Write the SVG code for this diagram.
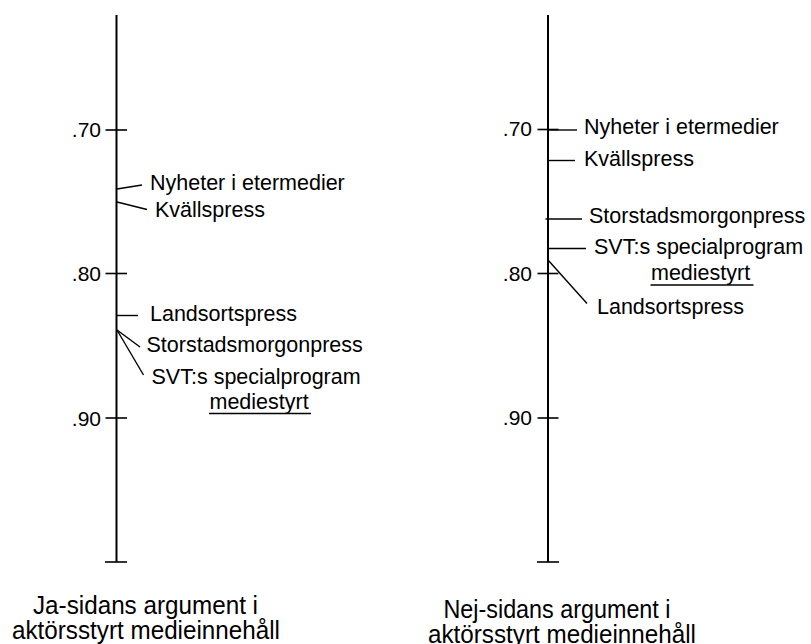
<svg xmlns="http://www.w3.org/2000/svg" width="811" height="644" viewBox="0 0 811 644">
<style>
  text { font-family: "Liberation Sans", Arial, sans-serif; fill: #000; }
  .lbl { font-size: 21.5px; }
  .tick { font-size: 21px; text-anchor: end; }
  .title { font-size: 25px; text-anchor: middle; }
  .axis { stroke: #000; stroke-width: 2; fill: none; }
  .tk { stroke: #000; stroke-width: 1.6; fill: none; }
  .lead { stroke: #000; stroke-width: 1.4; fill: none; }
  .ul { stroke: #000; stroke-width: 1.6; }
</style>
<rect width="811" height="644" fill="#fff"/>

<g id="axis-ja">
  <line class="axis" x1="116.5" y1="15" x2="116.5" y2="562"/>
  <line class="tk" x1="105.5" y1="130" x2="127" y2="130"/>
  <line class="tk" x1="105.5" y1="273.5" x2="127" y2="273.5"/>
  <line class="tk" x1="105.5" y1="418" x2="127" y2="418"/>
  <line class="tk" x1="105" y1="562" x2="127" y2="562"/>
  <text class="tick" x="101" y="136.5">.70</text>
  <text class="tick" x="101" y="281">.80</text>
  <text class="tick" x="101" y="425.5">.90</text>
</g>

<g id="axis-nej">
  <line class="axis" x1="548" y1="15" x2="548" y2="562"/>
  <line class="tk" x1="537.5" y1="129.5" x2="558.5" y2="129.5"/>
  <line class="tk" x1="537.5" y1="273.5" x2="558.5" y2="273.5"/>
  <line class="tk" x1="537.5" y1="418" x2="558.5" y2="418"/>
  <line class="tk" x1="537" y1="562" x2="559" y2="562"/>
  <text class="tick" x="532" y="136">.70</text>
  <text class="tick" x="532" y="280.5">.80</text>
  <text class="tick" x="532" y="425">.90</text>
</g>

<g id="connectors">
  <line class="lead" x1="117" y1="189" x2="142" y2="185"/>
  <line class="lead" x1="117" y1="202" x2="147" y2="209.5"/>
  <line class="lead" x1="117" y1="315.5" x2="138" y2="315.5"/>
  <line class="lead" x1="117" y1="330" x2="140" y2="347"/>
  <line class="lead" x1="117" y1="330" x2="143.5" y2="375"/>
  <line class="lead" x1="548" y1="130" x2="577" y2="130"/>
  <line class="lead" x1="548" y1="160.5" x2="575" y2="160.5"/>
  <line class="lead" x1="545.5" y1="219" x2="582" y2="219"/>
  <line class="lead" x1="548" y1="248.5" x2="586" y2="248.5"/>
  <line class="lead" x1="548" y1="260" x2="587" y2="303.5"/>
</g>

<g id="ja-nyheter"><text class="lbl" x="150" y="189.5">Nyheter i etermedier</text></g>
<g id="ja-kvallspress"><text class="lbl" x="155" y="216.5">Kvällspress</text></g>
<g id="ja-landsortspress"><text class="lbl" x="150" y="320.5">Landsortspress</text></g>
<g id="ja-storstad"><text class="lbl" x="146.5" y="352">Storstadsmorgonpress</text></g>
<g id="ja-svt">
  <text class="lbl" x="151.5" y="383.5">SVT:s specialprogram</text>
  <text class="lbl" x="209.5" y="408.5">mediestyrt</text>
  <line class="ul" x1="209" y1="413.5" x2="311" y2="413.5"/>
</g>

<g id="nej-nyheter"><text class="lbl" x="584" y="133.5">Nyheter i etermedier</text></g>
<g id="nej-kvallspress"><text class="lbl" x="584" y="165.5">Kvällspress</text></g>
<g id="nej-storstad"><text class="lbl" x="589" y="223">Storstadsmorgonpress</text></g>
<g id="nej-svt">
  <text class="lbl" x="594" y="253.5">SVT:s specialprogram</text>
  <text class="lbl" x="651" y="280">mediestyrt</text>
  <line class="ul" x1="650.5" y1="285" x2="753.5" y2="285"/>
</g>
<g id="nej-landsortspress"><text class="lbl" x="597" y="313.5">Landsortspress</text></g>

<g id="title-ja">
  <text class="title" x="145.5" y="614" textLength="225" lengthAdjust="spacingAndGlyphs">Ja-sidans argument i</text>
  <text class="title" x="146" y="638.5" textLength="268" lengthAdjust="spacingAndGlyphs">aktörsstyrt medieinnehåll</text>
</g>
<g id="title-nej">
  <text class="title" x="557" y="618" textLength="227" lengthAdjust="spacingAndGlyphs">Nej-sidans argument i</text>
  <text class="title" x="562" y="642.5" textLength="268" lengthAdjust="spacingAndGlyphs">aktörsstyrt medieinnehåll</text>
</g>
</svg>
